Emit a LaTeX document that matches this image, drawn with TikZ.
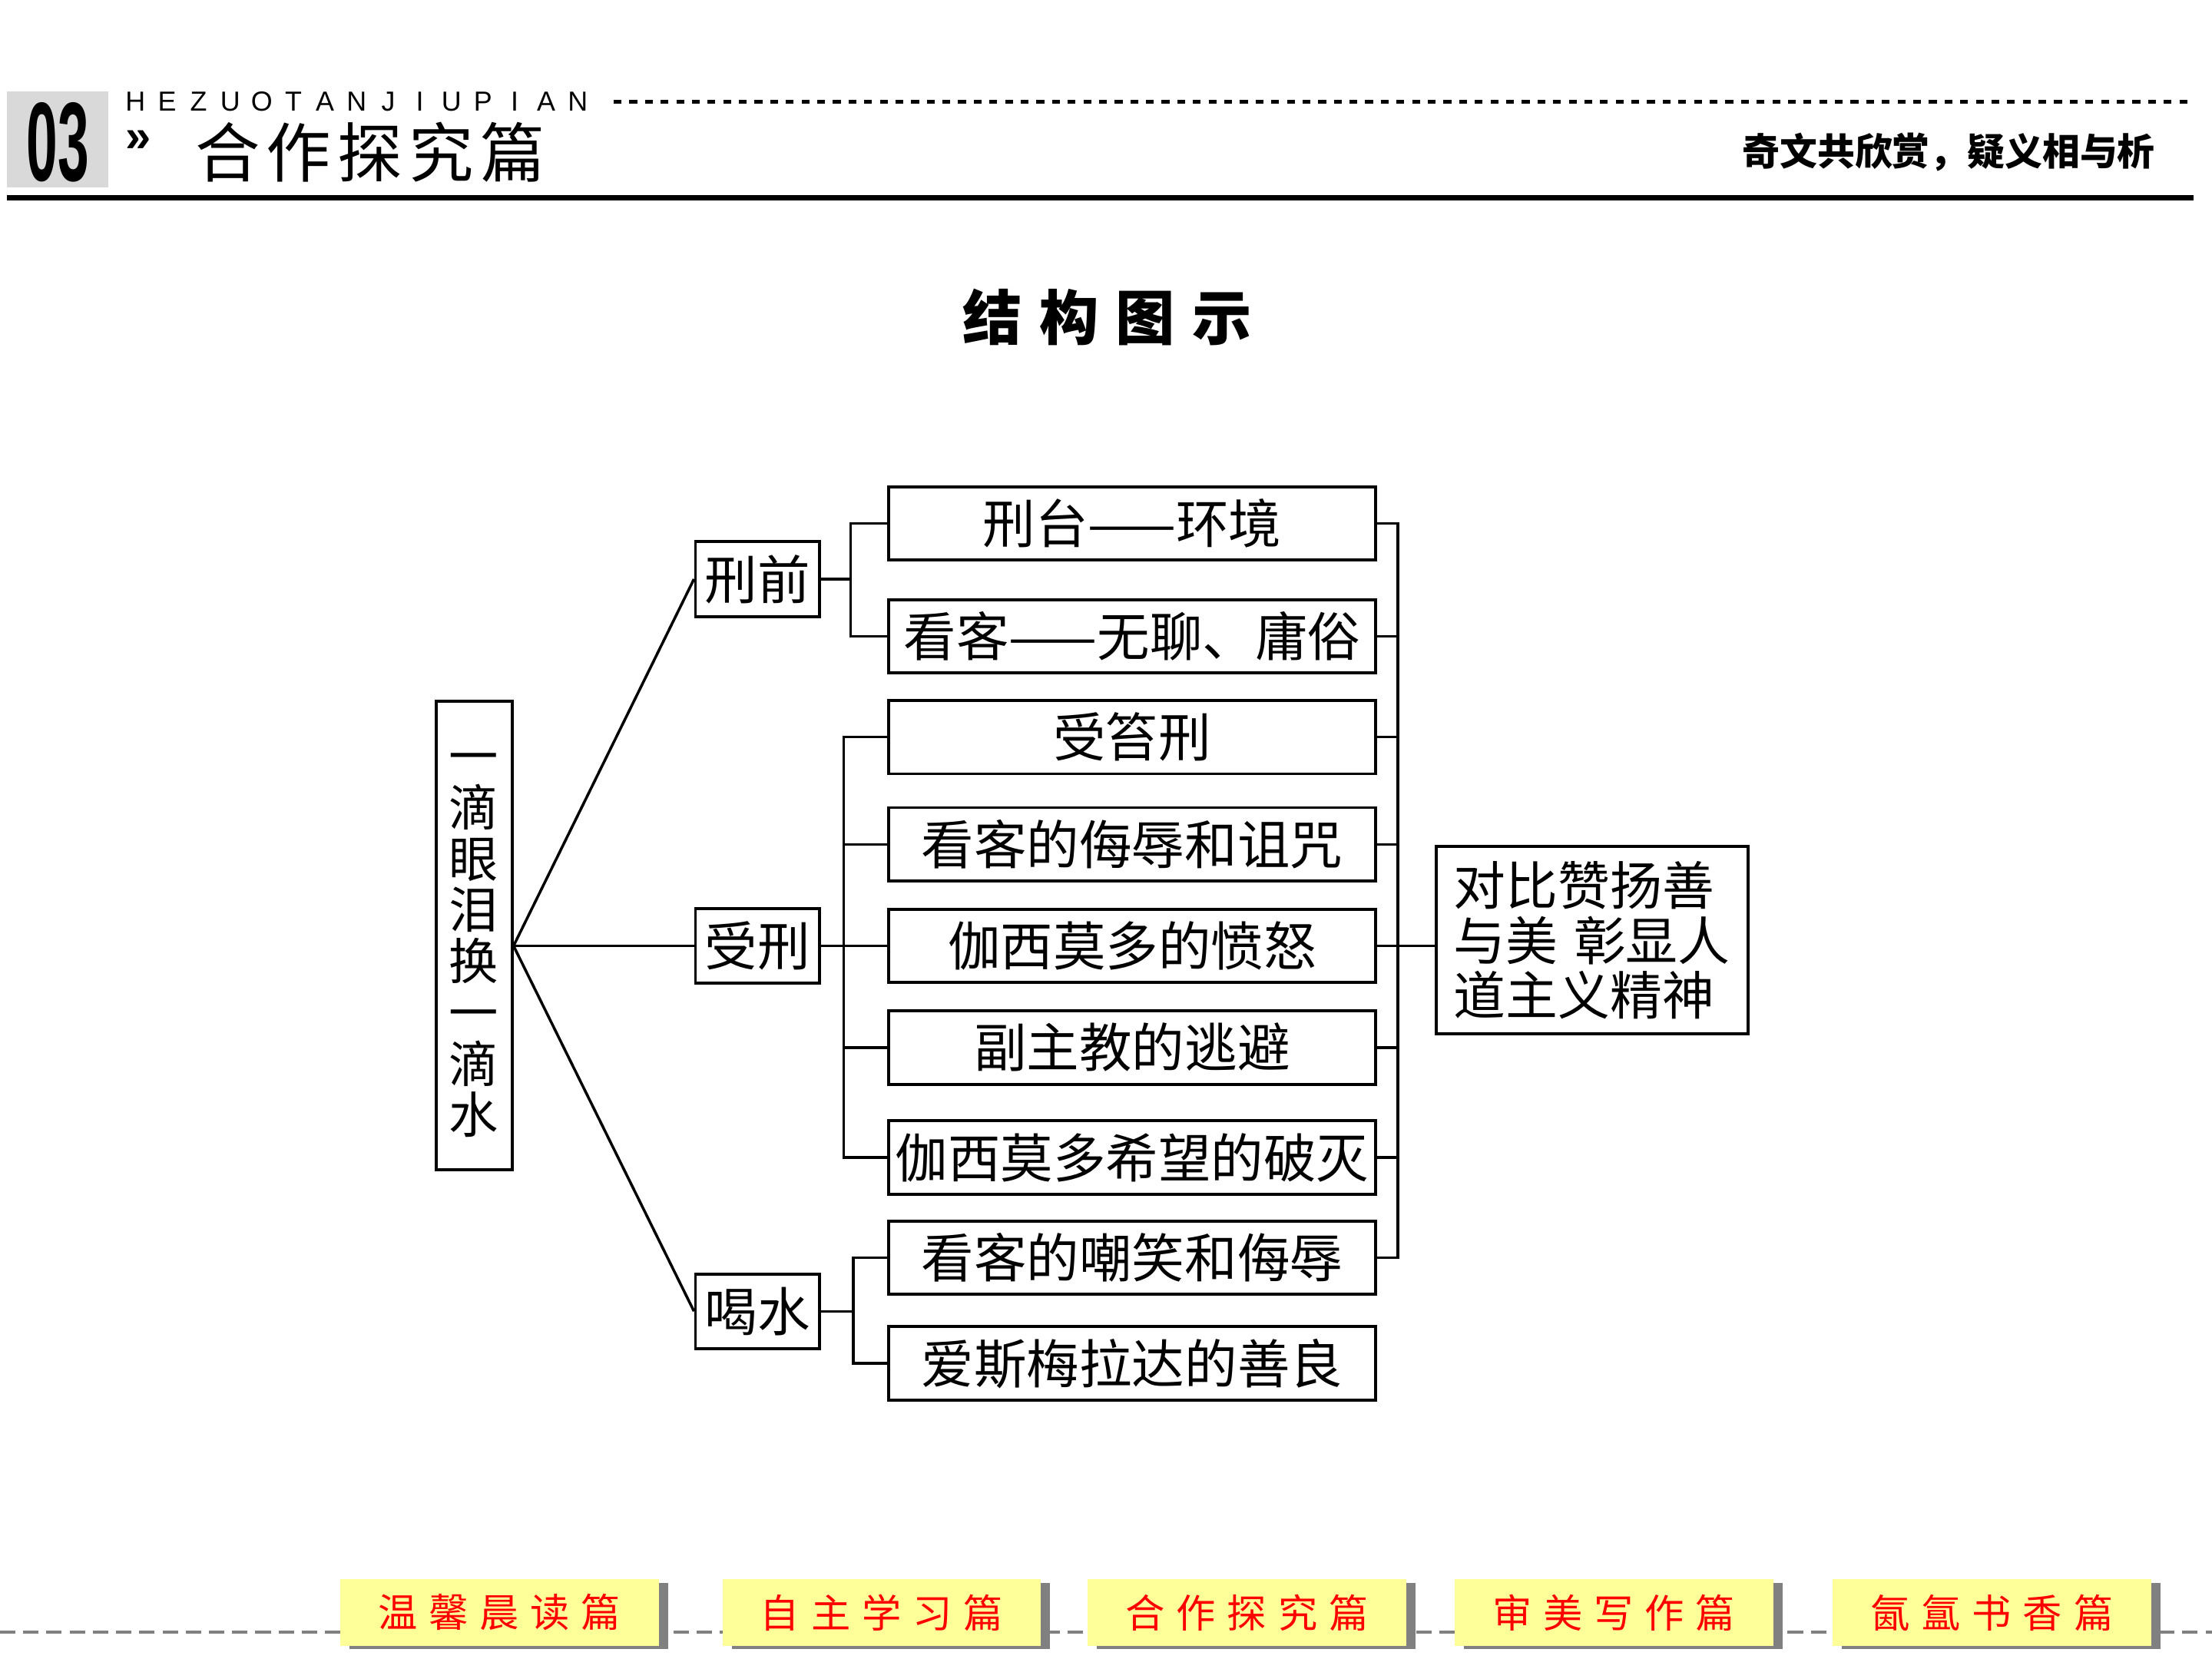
\documentclass[tikz,border=0pt]{standalone}
\usepackage{fontspec}
\usepackage{graphicx}
\setmainfont{Liberation Sans}
\newfontfamily\cjk{Noto Sans CJK SC}
\newfontfamily\cjkwide{Noto Sans CJK SC}[LetterSpace=10]
\newfontfamily\cjktitle{Noto Sans CJK SC}[LetterSpace=29]
\newfontfamily\cjkbtn{Noto Sans CJK SC}[LetterSpace=29]
\newcommand\cjkstrut{\rule[-0.12em]{0pt}{1em}}
\definecolor{hdrgray}{HTML}{D9D9D9}
\definecolor{btnyellow}{HTML}{FFFF99}
\definecolor{btnshadow}{HTML}{808080}
\definecolor{btnred}{HTML}{FF0000}
\tikzset{
  box/.style={draw, line width=1.1pt, minimum width=180.3pt, minimum height=27.2pt,
    inner sep=0pt, font=\cjk\fontsize{19.5}{21}\selectfont},
  sub/.style={box, minimum width=46pt, minimum height=27.7pt},
  link/.style={line width=1pt},
  btn/.style={fill=btnyellow, minimum width=118pt, minimum height=24.6pt, inner sep=0pt,
    text=btnred, font=\cjkbtn\fontsize{14.6}{15}\selectfont},
  btnshade/.style={fill=btnshadow, minimum width=118pt, minimum height=24.6pt, inner sep=0pt}
}
\begin{document}
\begin{tikzpicture}[x=0.18367mm, y=-0.18367mm]
\useasboundingbox (0,0) rectangle (1568,1176);
% header
\fill[hdrgray] (5,65) rectangle (77,133);
\node (num) at (41,101) {\fontsize{41.6}{42}\selectfont\bfseries\scalebox{0.5}[1]{03}};
\foreach \ch [count=\i from 0] in {H,E,Z,U,O,T,A,N,J,I,U,P,I,A,N}
	\node[font=\fontsize{10.2}{11}\selectfont, inner sep=0pt] (hz\i) at (96+22.4*\i,72) {\ch};
\draw[dash pattern=on 2.9pt off 2.9pt, line width=1.3pt] (435,72) -- (1555,72);
\node[inner sep=0pt] (mark) at (98,100) {\fontsize{17}{17}\selectfont\bfseries »};
\node[anchor=west, inner sep=0pt] (sect) at (138,108) {\cjkwide\fontsize{24}{24}\selectfont 合作探究篇};
\node[anchor=east, inner sep=0pt] (motto) at (1528,108) {\cjk\bfseries\fontsize{13.9}{14}\selectfont 奇文共欣赏，疑义相与析};
\draw[line width=2pt] (5,140) -- (1555,140);
\node (title) at (785,225) {\cjktitle\bfseries\fontsize{22}{22}\selectfont 结构图示};
% tree
\node[draw, line width=1.1pt, align=center, minimum width=28.2pt, minimum height=173.5pt,
  inner sep=0pt, font=\cjk\fontsize{18.3}{19}\selectfont] (drop) at (336,663)
  {\cjkstrut 一\\\cjkstrut 滴\\\cjkstrut 眼\\\cjkstrut 泪\\\cjkstrut 换\\\cjkstrut 一\\\cjkstrut 滴\\\cjkstrut 水};
\node[sub] (pre) at (537,410.5) {刑前};
\node[sub] (dur) at (537,670.5) {受刑};
\node[sub] (drink) at (537,929.5) {喝水};
\foreach \y/\t [count=\i] in {371/刑台——环境, 451/看客——无聊、庸俗, 522.5/受笞刑,
  598.5/看客的侮辱和诅咒, 670.5/伽西莫多的愤怒, 742.5/副主教的逃避,
  820.5/伽西莫多希望的破灭, 891.5/看客的嘲笑和侮辱, 966.5/爱斯梅拉达的善良}
	\node[box] (r\i) at (802.5,\y) {\t};
\node[draw, line width=1.1pt, align=left, text width=102.3pt, minimum width=115.5pt,
  minimum height=69.5pt, inner sep=0pt, font=\cjk\fontsize{19.3}{20.4}\selectfont] (sum)
  at (1128.5,666.5) {对比赞扬善\\与美\hspace{0.3em}彰显人\\道主义精神};
\coordinate (hub) at (drop.east |- dur.west);
\draw[link] (hub) -- (pre.west);
\draw[link] (hub) -- (dur.west);
\draw[link] (hub) -- (drink.west);
\coordinate (preb) at (603,410.5);
\coordinate (durb) at (598,670.5);
\coordinate (drinkb) at (605,929.5);
\coordinate (sumb) at (991,670.5);
\draw[link] (pre.east) -- (preb);
\draw[link] (r1.west) -| (preb) |- (r2.west);
\draw[link] (dur.east) -- (r5.west);
\draw[link] (r3.west) -| (durb) |- (r7.west);
\foreach \i in {4,6}
	\draw[link] (r\i.west) -- (r\i.west -| durb);
\draw[link] (drink.east) -- (drinkb);
\draw[link] (r8.west) -| (drinkb) |- (r9.west);
\draw[link] (r1.east) -| (sumb) |- (r8.east);
\foreach \i in {2,...,7}
	\draw[link] (r\i.east) -- (r\i.east -| sumb);
\draw[link] (sumb) -- (sumb -| sum.west);
% footer
\draw[btnshadow, dash pattern=on 5.7pt off 2.9pt, line width=1pt] (0,1157) -- (1568,1157);
\foreach \x/\t [count=\i] in {354/温馨晨读篇, 625/自主学习篇, 884/合作探究篇, 1144/审美写作篇, 1412/氤氲书香篇} {
	\node[btnshade] (shd\i) at (\x+6.5,1145.5) {};
	\node[btn] (btn\i) at (\x,1143) {\raisebox{-1.8pt}{\t}};
}
\end{tikzpicture}
\end{document}
